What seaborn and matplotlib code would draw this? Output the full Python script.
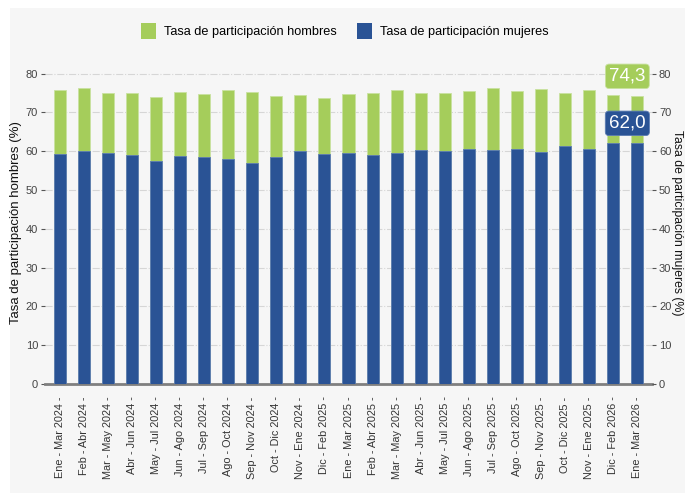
import numpy as np
import pandas as pd
import matplotlib.pyplot as plt
import seaborn as sns
from matplotlib.patches import Rectangle

periods = [
    "Ene - Mar 2024", "Feb - Abr 2024", "Mar - May 2024", "Abr - Jun 2024",
    "May - Jul 2024", "Jun - Ago 2024", "Jul - Sep 2024", "Ago - Oct 2024",
    "Sep - Nov 2024", "Oct - Dic 2024", "Nov - Ene 2024", "Dic - Feb 2025",
    "Ene - Mar 2025", "Feb - Abr 2025", "Mar - May 2025", "Abr - Jun 2025",
    "May - Jul 2025", "Jun - Ago 2025", "Jul - Sep 2025", "Ago - Oct 2025",
    "Sep - Nov 2025", "Oct - Dic 2025", "Nov - Ene 2025", "Dic - Feb 2026",
    "Ene - Mar 2026",
]
hombres = [75.9, 76.2, 75.0, 75.0, 74.1, 75.3, 74.8, 75.8, 75.3, 74.2, 74.6, 73.7,
           74.8, 75.0, 75.9, 75.1, 75.0, 75.4, 76.4, 75.5, 76.1, 75.1, 75.7, 74.5,
           74.3]
mujeres = [59.4, 60.0, 59.6, 59.1, 57.6, 58.7, 58.4, 58.0, 57.0, 58.5, 60.0, 59.2,
           59.5, 58.9, 59.6, 60.4, 60.1, 60.6, 60.2, 60.5, 59.7, 61.3, 60.6, 62.0,
           62.0]

green = "#a5cd5b"
blue = "#2a5395"
bg = "#f6f6f6"

df = pd.DataFrame({"periodo": periods, "hombres": hombres, "mujeres": mujeres})

plt.rcParams["font.family"] = ["Liberation Sans", "DejaVu Sans"]

fig = plt.figure(figsize=(6.85, 4.93), dpi=100)
fig.patch.set_facecolor("white")
fig.patches.append(Rectangle((10 / 685, 0), 1, 1 - 8 / 493, transform=fig.transFigure,
                             facecolor=bg, edgecolor="none", zorder=-10))
ax = fig.add_axes([45 / 685, 1 - 384 / 493, 607 / 685, 322 / 493])
ax.set_facecolor(bg)

sns.barplot(data=df, x="periodo", y="hombres", color=green, width=0.5,
            edgecolor="#c9e2a0", linewidth=0.6, saturation=1, ax=ax, zorder=2)
sns.barplot(data=df, x="periodo", y="mujeres", color=blue, width=0.5,
            edgecolor="#5d7db3", linewidth=0.6, saturation=1, ax=ax, zorder=3)

ax.set_ylim(0, 83)
ax.set_xlim(-0.62, len(periods) - 0.38)
ax.set_yticks(range(0, 81, 10))
ax.grid(axis="y", color="#d6d6d6", linestyle="-.", linewidth=0.8, zorder=0)
ax.set_axisbelow(True)
for s in ["top", "right", "left"]:
    ax.spines[s].set_visible(False)
ax.spines["bottom"].set_color("#7f7f7f")
ax.spines["bottom"].set_linewidth(2)
ax.tick_params(axis="y", length=3, width=0.8, color="#555555", labelsize=8,
               labelcolor="#444444", pad=2)
ax.tick_params(axis="x", length=0, labelsize=7.8, labelcolor="#333333", pad=9)
ax.set_xticks(range(len(periods)))
ax.set_xticklabels([p + " -" for p in periods], rotation=90)
ax.set_xlabel("")
ax.set_ylabel("Tasa de participación hombres (%)", fontsize=9.5, color="#111111", labelpad=3)

ax2 = ax.twinx()
ax2.set_ylim(ax.get_ylim())
ax2.set_yticks(range(0, 81, 10))
for s in ["top", "right", "left", "bottom"]:
    ax2.spines[s].set_visible(False)
ax2.tick_params(axis="y", length=3, width=0.8, color="#555555", labelsize=8,
                labelcolor="#444444", pad=2)
ax2.set_ylabel("Tasa de participación mujeres (%)", fontsize=8.8, color="#111111",
               rotation=270, labelpad=8.5)

last = len(periods) - 1
ax.annotate(f"{hombres[-1]:.1f}".replace(".", ","), xy=(last, hombres[-1]),
            xytext=(-7, 14), textcoords="offset points", ha="center", va="center",
            fontsize=13.5, color="white", zorder=10,
            bbox=dict(boxstyle="round,pad=0.2,rounding_size=0.2", fc=green, ec="#c9e2a0", lw=0.6))
ax.annotate(f"{mujeres[-1]:.1f}".replace(".", ","), xy=(last, mujeres[-1]),
            xytext=(-7, 14.5), textcoords="offset points", ha="center", va="center",
            fontsize=13.5, color="white", zorder=10,
            bbox=dict(boxstyle="round,pad=0.2,rounding_size=0.2", fc=blue, ec="#5d7db3", lw=0.6))

handles = [Rectangle((0, 0), 1, 1, fc=green), Rectangle((0, 0), 1, 1, fc=blue)]
fig.legend(handles, ["Tasa de participación hombres", "Tasa de participación mujeres"],
           loc="center", bbox_to_anchor=(0.503, 1 - 31 / 493), ncol=2, frameon=False,
           fontsize=9.2, handlelength=1.2, handleheight=1.6, columnspacing=1.6,
           handletextpad=0.6)

fig.savefig("out.png", dpi=100, facecolor=fig.get_facecolor())
